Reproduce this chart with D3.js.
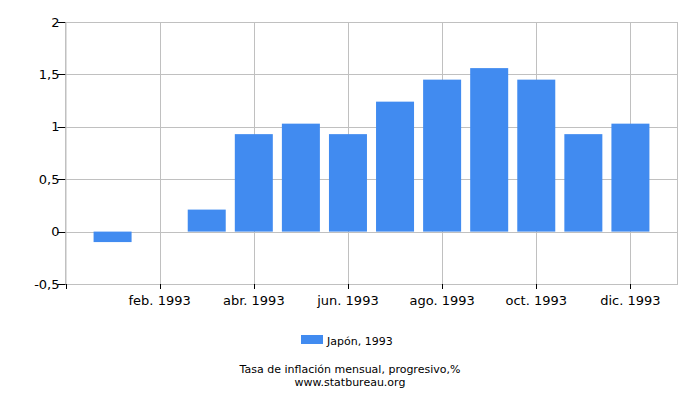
<!DOCTYPE html>
<html><head><meta charset="utf-8">
<script src="https://cdn.jsdelivr.net/npm/d3@7"></script>
<style>body{margin:0;background:#fff}svg{display:block}text{font-family:"DejaVu Sans",sans-serif}</style>
</head><body><svg id="c" width="700" height="400"></svg>
<script>
const months = ["ene. 1993","feb. 1993","mar. 1993","abr. 1993","may. 1993","jun. 1993","jul. 1993","ago. 1993","sep. 1993","oct. 1993","nov. 1993","dic. 1993"];
const values = [-0.1, 0, 0.21, 0.93, 1.03, 0.93, 1.24, 1.45, 1.56, 1.45, 0.93, 1.03];
const yTicks = [-0.5, 0, 0.5, 1, 1.5, 2];
const labeledIdx = [1, 3, 5, 7, 9, 11];
const seriesName = "Japón, 1993";
const title = "Tasa de inflación mensual, progresivo,%";
const source = "www.statbureau.org";

const svg = d3.select("#c");
const L = 65.5, R = 677.5, T = 22, B = 284;
const x = d3.scaleLinear().domain([0, 13]).range([L, R]);
const y = d3.scaleLinear().domain([-0.5, 2]).range([B, T]);
const fmt = v => String(v).replace(".", ",");
const grid = "#c0c0c0";

// horizontal grid
svg.append("g").selectAll("line").data(yTicks).join("line")
  .attr("x1", L).attr("x2", R).attr("y1", d => Math.round(y(d)) + 0.5).attr("y2", d => Math.round(y(d)) + 0.5)
  .attr("stroke", grid);
// vertical grid
svg.append("g").selectAll("line").data(labeledIdx).join("line")
  .attr("y1", T).attr("y2", B).attr("x1", d => Math.round(x(d + 1)) + 0.5).attr("x2", d => Math.round(x(d + 1)) + 0.5)
  .attr("stroke", grid);
// border
svg.append("rect").attr("x", L).attr("y", T + 0.5).attr("width", R - L).attr("height", B - T)
  .attr("fill", "none").attr("stroke", grid);

// bars
const bw = 38;
svg.append("g").selectAll("rect").data(values).join("rect")
  .attr("x", (d, i) => x(i + 1) - bw / 2).attr("width", bw)
  .attr("y", d => y(Math.max(0, d))).attr("height", d => Math.abs(y(d) - y(0)))
  .attr("fill", "#418bf0");

// y axis ticks + labels
const ya = svg.append("g");
ya.selectAll("line").data(yTicks).join("line")
  .attr("x1", L - 8).attr("x2", L).attr("y1", d => Math.round(y(d)) + 0.5).attr("y2", d => Math.round(y(d)) + 0.5)
  .attr("stroke", "#000");
ya.selectAll("text").data(yTicks).join("text")
  .attr("x", L - 6).attr("y", d => y(d) + 4.5).attr("text-anchor", "end")
  .attr("font-size", 13).attr("fill", "#000").text(fmt);
ya.append("line").attr("x1", L + 0.5).attr("x2", L + 0.5).attr("y1", T).attr("y2", B).attr("stroke", grid);

// x axis ticks + labels
const xa = svg.append("g");
xa.selectAll("line").data([-1].concat(labeledIdx)).join("line")
  .attr("x1", d => Math.round(x(d + 1)) + 0.5).attr("x2", d => Math.round(x(d + 1)) + 0.5)
  .attr("y1", B).attr("y2", B + 5).attr("stroke", "#000");
xa.selectAll("text").data(labeledIdx).join("text")
  .attr("x", d => x(d + 1)).attr("y", B + 21).attr("text-anchor", "middle")
  .attr("font-size", 13).attr("fill", "#000").text(d => months[d]);

// legend
svg.append("rect").attr("x", 301).attr("y", 335).attr("width", 22).attr("height", 9).attr("fill", "#418bf0");
svg.append("text").attr("x", 327).attr("y", 345).attr("font-size", 11).attr("fill", "#000").text(seriesName);

svg.append("text").attr("x", 350).attr("y", 373).attr("text-anchor", "middle").attr("font-size", 11).attr("fill", "#000").text(title);
svg.append("text").attr("x", 350).attr("y", 386).attr("text-anchor", "middle").attr("font-size", 11).attr("fill", "#000").text(source);
</script></body></html>
